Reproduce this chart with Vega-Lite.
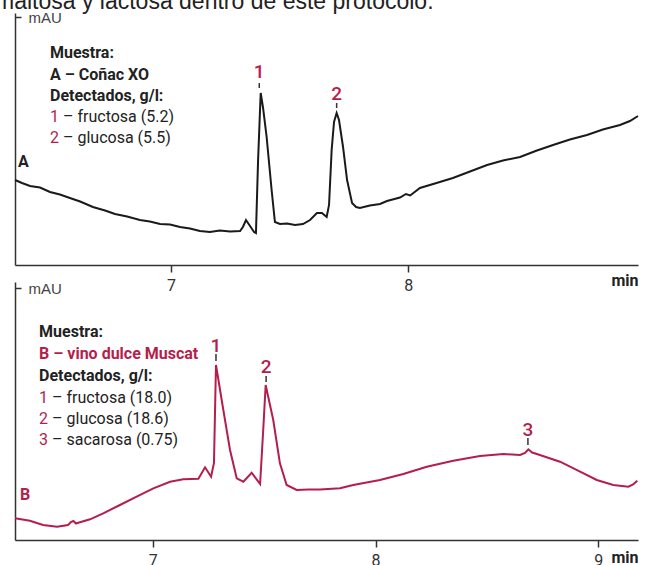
{
  "$schema": "https://vega.github.io/schema/vega-lite/v6.json",
  "padding": {"left": -5, "top": -9, "right": 0, "bottom": 0},
  "background": "white",
  "title": {"text": "maltosa y lactosa dentro de este protocolo.", "anchor": "start", "font": "Liberation Sans", "fontSize": 23, "fontWeight": "normal", "color": "#222222", "dx": -16, "offset": -22, "baseline": "alphabetic"},
  "bounds": "flush",
  "spacing": 17,
  "config": {
    "view": {"stroke": null},
    "axis": {"grid": false, "domainColor": "#333333", "tickColor": "#333333", "domainWidth": 1.5, "tickWidth": 1.5}
  },
  "datasets": {
    "a": [
      {"t": 6.343, "v": 85}, {"t": 6.372, "v": 82}, {"t": 6.406, "v": 79}, {"t": 6.448, "v": 77.5}, {"t": 6.49, "v": 73},
      {"t": 6.532, "v": 70.5}, {"t": 6.574, "v": 67}, {"t": 6.617, "v": 63.5}, {"t": 6.671, "v": 58}, {"t": 6.722, "v": 54.5},
      {"t": 6.764, "v": 51}, {"t": 6.815, "v": 48.5}, {"t": 6.869, "v": 45}, {"t": 6.911, "v": 43.5}, {"t": 6.954, "v": 41},
      {"t": 6.996, "v": 40.5}, {"t": 7.038, "v": 38}, {"t": 7.08, "v": 36.5}, {"t": 7.122, "v": 34}, {"t": 7.164, "v": 33},
      {"t": 7.206, "v": 34.5}, {"t": 7.249, "v": 33.5}, {"t": 7.291, "v": 34}, {"t": 7.303, "v": 38}, {"t": 7.316, "v": 45},
      {"t": 7.333, "v": 39}, {"t": 7.35, "v": 33}, {"t": 7.358, "v": 32}, {"t": 7.367, "v": 105}, {"t": 7.378, "v": 172},
      {"t": 7.388, "v": 157}, {"t": 7.403, "v": 128}, {"t": 7.424, "v": 75}, {"t": 7.438, "v": 43}, {"t": 7.459, "v": 41},
      {"t": 7.489, "v": 41.5}, {"t": 7.523, "v": 40}, {"t": 7.556, "v": 41}, {"t": 7.586, "v": 45}, {"t": 7.615, "v": 52},
      {"t": 7.636, "v": 52}, {"t": 7.656, "v": 48}, {"t": 7.666, "v": 60}, {"t": 7.677, "v": 115}, {"t": 7.687, "v": 143},
      {"t": 7.698, "v": 152}, {"t": 7.708, "v": 145}, {"t": 7.725, "v": 118}, {"t": 7.742, "v": 85}, {"t": 7.763, "v": 62},
      {"t": 7.78, "v": 58}, {"t": 7.796, "v": 57}, {"t": 7.838, "v": 59.5}, {"t": 7.881, "v": 61}, {"t": 7.91, "v": 64},
      {"t": 7.965, "v": 67.5}, {"t": 7.99, "v": 71}, {"t": 8.008, "v": 69.5}, {"t": 8.049, "v": 77}, {"t": 8.112, "v": 81.5},
      {"t": 8.188, "v": 87}, {"t": 8.26, "v": 93.5}, {"t": 8.332, "v": 100}, {"t": 8.399, "v": 104.5}, {"t": 8.471, "v": 108},
      {"t": 8.542, "v": 114.5}, {"t": 8.61, "v": 120}, {"t": 8.681, "v": 125.5}, {"t": 8.753, "v": 130}, {"t": 8.82, "v": 135.5},
      {"t": 8.892, "v": 140}, {"t": 8.934, "v": 144}, {"t": 8.968, "v": 149}
    ],
    "b": [
      {"t": 6.382, "v": 21.7}, {"t": 6.449, "v": 19.3}, {"t": 6.508, "v": 15}, {"t": 6.571, "v": 13.3}, {"t": 6.62, "v": 15},
      {"t": 6.633, "v": 18}, {"t": 6.644, "v": 19}, {"t": 6.656, "v": 16.5}, {"t": 6.666, "v": 17.3}, {"t": 6.719, "v": 20.7},
      {"t": 6.778, "v": 26.7}, {"t": 6.853, "v": 35}, {"t": 6.928, "v": 43.3}, {"t": 7.003, "v": 51.7}, {"t": 7.078, "v": 58.3},
      {"t": 7.137, "v": 60.7}, {"t": 7.205, "v": 61.3}, {"t": 7.235, "v": 72.7}, {"t": 7.262, "v": 63.3}, {"t": 7.275, "v": 77},
      {"t": 7.284, "v": 175}, {"t": 7.317, "v": 130}, {"t": 7.347, "v": 90}, {"t": 7.377, "v": 61.7}, {"t": 7.407, "v": 58.3},
      {"t": 7.444, "v": 67.3}, {"t": 7.482, "v": 56}, {"t": 7.496, "v": 110}, {"t": 7.507, "v": 155}, {"t": 7.541, "v": 120},
      {"t": 7.571, "v": 76.7}, {"t": 7.601, "v": 55}, {"t": 7.646, "v": 50}, {"t": 7.7, "v": 50.5}, {"t": 7.751, "v": 50.5},
      {"t": 7.841, "v": 51.7}, {"t": 7.9, "v": 55}, {"t": 8.02, "v": 60}, {"t": 8.125, "v": 66}, {"t": 8.23, "v": 73.3},
      {"t": 8.349, "v": 79.3}, {"t": 8.469, "v": 84}, {"t": 8.574, "v": 86}, {"t": 8.649, "v": 85}, {"t": 8.671, "v": 87},
      {"t": 8.686, "v": 90.7}, {"t": 8.703, "v": 87.5}, {"t": 8.724, "v": 86}, {"t": 8.828, "v": 78.3}, {"t": 8.918, "v": 68.3},
      {"t": 8.993, "v": 60}, {"t": 9.067, "v": 55}, {"t": 9.135, "v": 53.3}, {"t": 9.156, "v": 55.5}, {"t": 9.175, "v": 59.3}
    ]
  },
  "vconcat": [
    {
      "width": 623,
      "height": 252,
      "layer": [
        {
          "data": {"name": "a"},
          "mark": {"type": "line", "color": "#1a1a1a", "strokeWidth": 2},
          "encoding": {
            "x": {"field": "t", "type": "quantitative", "scale": {"domain": [6.3426, 8.968], "nice": false, "zero": false},
              "axis": {"values": [7, 8], "format": "d", "tickSize": 7, "labelFont": "Roboto", "labelFontSize": 16, "labelColor": "#333333", "labelPadding": 5,
                "title": "min", "titleFont": "Roboto", "titleFontWeight": "bold", "titleFontSize": 16, "titleColor": "#222222", "titleAlign": "right", "titleAnchor": "end", "titleX": 623, "titleY": 20, "titleBaseline": "alphabetic"}},
            "y": {"field": "v", "type": "quantitative", "scale": {"domain": [0, 252], "nice": false, "zero": false},
              "axis": {"values": [248], "labelExpr": "'mAU'", "tickSize": -6, "labelPadding": -7, "labelAlign": "left", "labelBaseline": "middle", "labelFont": "Liberation Sans", "labelFontSize": 15, "labelColor": "#444444", "title": null}}
          }
        },
        {
          "data": {"values": [{"t": 7.372, "v1": 182, "v2": 177}, {"t": 7.698, "v1": 162, "v2": 157}]},
          "mark": {"type": "rule", "color": "#333333", "strokeWidth": 1.5},
          "encoding": {"x": {"field": "t", "type": "quantitative"}, "y": {"field": "v1", "type": "quantitative"}, "y2": {"field": "v2"}}
        },
        {
          "data": {"values": [{"t": 7.372, "v": 187, "label": "1"}, {"t": 7.698, "v": 165, "label": "2"}]},
          "mark": {"type": "text", "color": "#b41e4c", "font": "Roboto", "fontWeight": 500, "fontSize": 19, "align": "center", "baseline": "alphabetic"},
          "encoding": {"x": {"field": "t", "type": "quantitative"}, "y": {"field": "v", "type": "quantitative"}, "text": {"field": "label"}}
        },
        {
          "data": {"values": [{"t": 6.49, "v": 207, "label": "Muestra:"}, {"t": 6.49, "v": 185.5, "label": "A – Coñac XO"}, {"t": 6.49, "v": 164.5, "label": "Detectados, g/l:"}, {"t": 6.355, "v": 98, "label": "A"}]},
          "mark": {"type": "text", "color": "#222222", "font": "Roboto", "fontWeight": "bold", "fontSize": 16, "align": "left", "baseline": "alphabetic"},
          "encoding": {"x": {"field": "t", "type": "quantitative"}, "y": {"field": "v", "type": "quantitative"}, "text": {"field": "label"}}
        },
        {
          "data": {"values": [{"t": 6.49, "v": 143.5, "label": "1"}, {"t": 6.49, "v": 122.5, "label": "2"}]},
          "mark": {"type": "text", "color": "#b41e4c", "font": "Roboto", "fontSize": 16, "align": "left", "baseline": "alphabetic"},
          "encoding": {"x": {"field": "t", "type": "quantitative"}, "y": {"field": "v", "type": "quantitative"}, "text": {"field": "label"}}
        },
        {
          "data": {"values": [{"t": 6.49, "v": 143.5, "label": "– fructosa (5.2)"}, {"t": 6.49, "v": 122.5, "label": "– glucosa (5.5)"}]},
          "mark": {"type": "text", "color": "#222222", "dx": 13, "font": "Roboto", "fontSize": 16, "align": "left", "baseline": "alphabetic"},
          "encoding": {"x": {"field": "t", "type": "quantitative"}, "y": {"field": "v", "type": "quantitative"}, "text": {"field": "label"}}
        }
      ]
    },
    {
      "width": 623,
      "height": 258,
      "layer": [
        {
          "data": {"name": "b"},
          "mark": {"type": "line", "color": "#b41e4c", "strokeWidth": 2},
          "encoding": {
            "x": {"field": "t", "type": "quantitative", "scale": {"domain": [6.382, 9.178], "nice": false, "zero": false},
              "axis": {"values": [7, 8, 9], "format": "d", "tickSize": 7, "labelFont": "Roboto", "labelFontSize": 16, "labelColor": "#333333", "labelPadding": 5,
                "title": "min", "titleFont": "Roboto", "titleFontWeight": "bold", "titleFontSize": 16, "titleColor": "#222222", "titleAlign": "right", "titleAnchor": "end", "titleX": 623, "titleY": 22, "titleBaseline": "alphabetic"}},
            "y": {"field": "v", "type": "quantitative", "scale": {"domain": [0, 258], "nice": false, "zero": false},
              "axis": {"values": [252], "labelExpr": "'mAU'", "tickSize": -6, "labelPadding": -7, "labelAlign": "left", "labelBaseline": "middle", "labelFont": "Liberation Sans", "labelFontSize": 15, "labelColor": "#444444", "title": null}}
          }
        },
        {
          "data": {"values": [{"t": 7.284, "v1": 186, "v2": 179}, {"t": 7.509, "v1": 164, "v2": 158}, {"t": 8.684, "v1": 102, "v2": 95}]},
          "mark": {"type": "rule", "color": "#333333", "strokeWidth": 1.5},
          "encoding": {"x": {"field": "t", "type": "quantitative"}, "y": {"field": "v1", "type": "quantitative"}, "y2": {"field": "v2"}}
        },
        {
          "data": {"values": [{"t": 7.284, "v": 188, "label": "1"}, {"t": 7.509, "v": 167, "label": "2"}, {"t": 8.684, "v": 104, "label": "3"}]},
          "mark": {"type": "text", "color": "#b41e4c", "font": "Roboto", "fontWeight": 500, "fontSize": 19, "align": "center", "baseline": "alphabetic"},
          "encoding": {"x": {"field": "t", "type": "quantitative"}, "y": {"field": "v", "type": "quantitative"}, "text": {"field": "label"}}
        },
        {
          "data": {"values": [{"t": 6.49, "v": 203, "label": "Muestra:", "kind": "head"}, {"t": 6.49, "v": 181, "label": "B – vino dulce Muscat", "kind": "sample"}, {"t": 6.49, "v": 159, "label": "Detectados, g/l:", "kind": "head"}, {"t": 6.404, "v": 40, "label": "B", "kind": "sample"}]},
          "mark": {"type": "text", "font": "Roboto", "fontWeight": "bold", "fontSize": 16, "align": "left", "baseline": "alphabetic"},
          "encoding": {"x": {"field": "t", "type": "quantitative"}, "y": {"field": "v", "type": "quantitative"}, "text": {"field": "label"},
            "color": {"field": "kind", "type": "nominal", "scale": {"domain": ["head", "sample"], "range": ["#222222", "#b41e4c"]}, "legend": null}}
        },
        {
          "data": {"values": [{"t": 6.49, "v": 137, "label": "1"}, {"t": 6.49, "v": 116, "label": "2"}, {"t": 6.49, "v": 95, "label": "3"}]},
          "mark": {"type": "text", "color": "#b41e4c", "font": "Roboto", "fontSize": 16, "align": "left", "baseline": "alphabetic"},
          "encoding": {"x": {"field": "t", "type": "quantitative"}, "y": {"field": "v", "type": "quantitative"}, "text": {"field": "label"}}
        },
        {
          "data": {"values": [{"t": 6.49, "v": 137, "label": "– fructosa (18.0)"}, {"t": 6.49, "v": 116, "label": "– glucosa (18.6)"}, {"t": 6.49, "v": 95, "label": "– sacarosa (0.75)"}]},
          "mark": {"type": "text", "color": "#222222", "dx": 13, "font": "Roboto", "fontSize": 16, "align": "left", "baseline": "alphabetic"},
          "encoding": {"x": {"field": "t", "type": "quantitative"}, "y": {"field": "v", "type": "quantitative"}, "text": {"field": "label"}}
        }
      ]
    }
  ]
}
